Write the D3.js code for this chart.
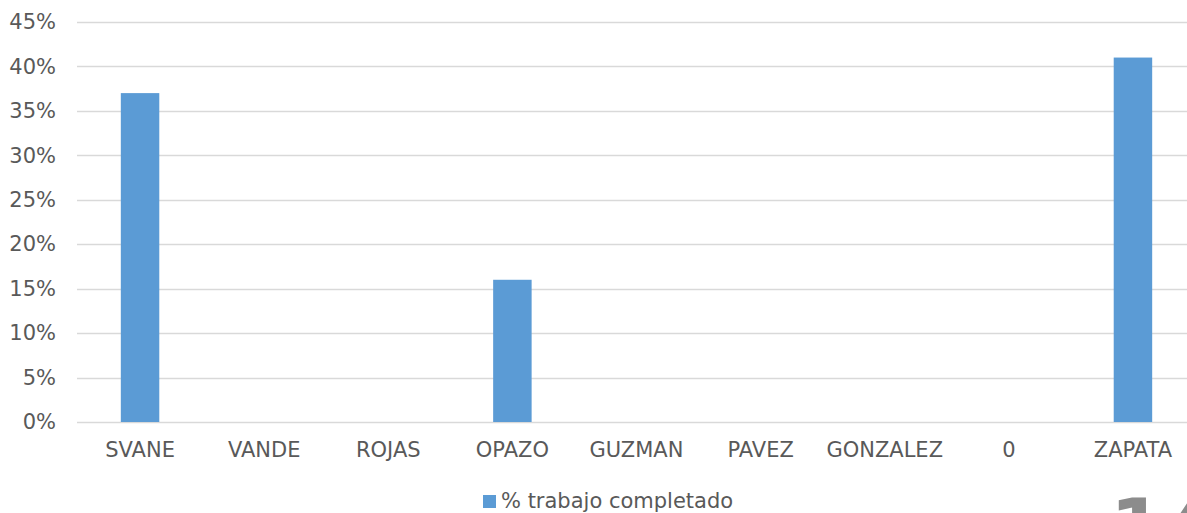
<!DOCTYPE html>
<html>
<head>
<meta charset="utf-8">
<script src="https://cdn.jsdelivr.net/npm/d3@7"></script>
<style>
    html, body { margin: 0; padding: 0; background: #ffffff; overflow: hidden; }
    svg { display: block; font-family: "DejaVu Sans", sans-serif; }
</style>
</head>
<body>
<div id="chart"></div>
<script>
// Chart data
const categories = ["SVANE", "VANDE", "ROJAS", "OPAZO", "GUZMAN", "PAVEZ", "GONZALEZ", "0", "ZAPATA"];
const completed = [0.37, 0, 0, 0.16, 0, 0, 0, 0, 0.41];
const yTicks = [0, 0.05, 0.10, 0.15, 0.20, 0.25, 0.30, 0.35, 0.40, 0.45];
const seriesName = "% trabajo completado";
const pageNumber = "14";

const width = 1187;
const height = 513;
const margin = { top: 22, right: -8, bottom: 91, left: 78 };

const COLORS = {
    BAR: "#5B9BD5",
    GRID: "#D9D9D9",
    TEXT: "#595959",
    PAGE: "#8C8C8C"
};

const svg = d3.select("#chart").append("svg")
    .attr("width", width)
    .attr("height", height);

// Scales
const x = d3.scaleBand()
    .domain(categories)
    .range([margin.left, width - margin.right])
    .paddingInner(0.69)
    .paddingOuter(0.345);

const xBand = d3.scaleBand()
    .domain(categories)
    .range([margin.left, width - margin.right]);

const y = d3.scaleLinear()
    .domain([0, 0.45])
    .range([height - margin.bottom, margin.top]);

// Gridlines
svg.append("g")
    .selectAll("line")
    .data(yTicks)
    .enter()
    .append("line")
    .attr("x1", margin.left - 1)
    .attr("x2", width)
    .attr("y1", d => Math.round(y(d)) + 0.5)
    .attr("y2", d => Math.round(y(d)) + 0.5)
    .attr("stroke", COLORS.GRID)
    .attr("stroke-width", 1.5);

// Y axis labels
const yAxis = d3.axisLeft(y)
    .tickValues(yTicks)
    .tickFormat(d3.format(".0%"))
    .tickSize(0)
    .tickPadding(22);

svg.append("g")
    .attr("transform", "translate(" + margin.left + ",0)")
    .call(yAxis)
    .call(g => g.select(".domain").remove())
    .call(g => g.selectAll("text")
        .attr("fill", COLORS.TEXT)
        .style("font-size", "21px")
        .style("font-family", "'DejaVu Sans', sans-serif"));

// Bars
svg.append("g")
    .selectAll("rect")
    .data(completed)
    .enter()
    .append("rect")
    .attr("x", (d, i) => x(categories[i]))
    .attr("width", x.bandwidth())
    .attr("y", d => y(d))
    .attr("height", d => y(0) - y(d))
    .attr("fill", COLORS.BAR);

// X axis labels
const xAxis = d3.axisBottom(xBand)
    .tickSize(0)
    .tickPadding(20);

svg.append("g")
    .attr("transform", "translate(0," + y(0) + ")")
    .call(xAxis)
    .call(g => g.select(".domain").remove())
    .call(g => g.selectAll("text")
        .attr("fill", COLORS.TEXT)
        .style("font-size", "21px")
        .style("font-family", "'DejaVu Sans', sans-serif"));

// Legend
const legend = svg.append("g").attr("transform", "translate(483,495)");
legend.append("rect")
    .attr("width", 13)
    .attr("height", 13)
    .attr("fill", COLORS.BAR);
legend.append("text")
    .attr("x", 18)
    .attr("y", 13)
    .attr("fill", COLORS.TEXT)
    .style("font-size", "21px")
    .text(seriesName);

// Page number, cut off by the bottom edge
svg.append("text")
    .attr("x", 1110)
    .attr("y", 555)
    .attr("fill", COLORS.PAGE)
    .style("font-size", "78px")
    .style("font-weight", "bold")
    .text(pageNumber);
</script>
</body>
</html>
